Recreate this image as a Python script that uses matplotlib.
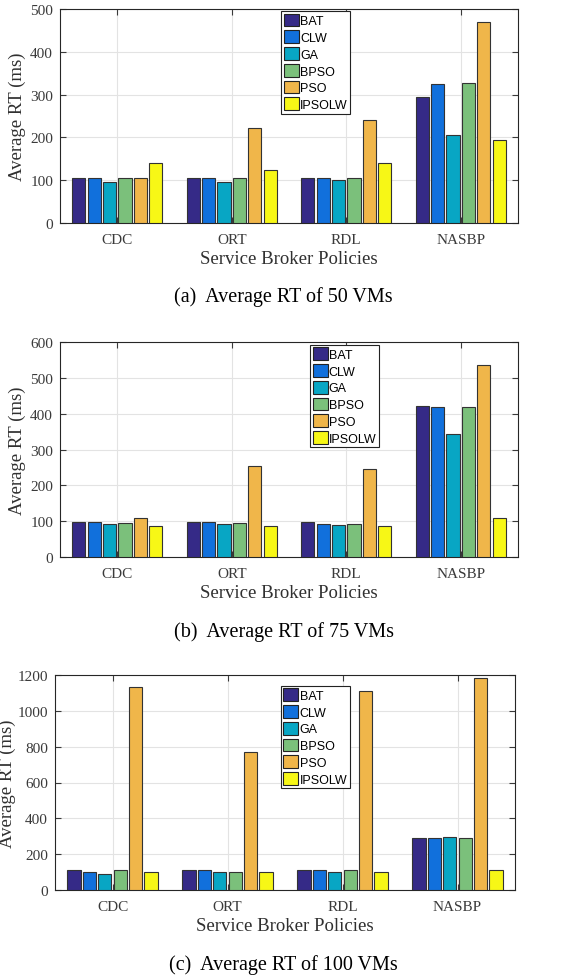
import numpy as np
import matplotlib.pyplot as plt
from matplotlib.patches import Patch

plt.rcParams["font.family"] = "Liberation Serif"

policies = ["CDC", "ORT", "RDL", "NASBP"]
algos = ["BAT", "CLW", "GA", "BPSO", "PSO", "IPSOLW"]
colors = ["#352a87", "#1170dc", "#08a6c4", "#7bc07b", "#f0b64a", "#f7f716"]

# rows = policies, columns = algorithms
rt_50 = [[105, 105, 95, 105, 105, 140],
         [105, 105, 95, 105, 223, 123],
         [105, 105, 100, 104, 240, 141],
         [295, 325, 205, 328, 470, 195]]
rt_75 = [[97, 97, 91, 94, 108, 87],
         [97, 97, 91, 96, 255, 86],
         [97, 91, 88, 91, 246, 87],
         [421, 418, 342, 419, 535, 109]]
rt_100 = [[113, 103, 91, 110, 1135, 100],
          [113, 113, 102, 102, 770, 100],
          [113, 111, 102, 113, 1110, 100],
          [292, 292, 297, 292, 1183, 110]]

panels = [
    (rt_50, 500, 100, "(a)  Average RT of 50 VMs", (60, 10, 518, 224), (0.483, 0.99), 297, 3),
    (rt_75, 600, 100, "(b)  Average RT of 75 VMs", (60, 343, 518, 558), (0.546, 0.987), 632, 3),
    (rt_100, 1200, 200, "(c)  Average RT of 100 VMs", (55, 676, 515, 891), (0.491, 0.95), 965, 1),
]

W, H = 567, 978
fig = plt.figure(figsize=(W / 100, H / 100), dpi=100)

step = 0.134
width = 0.115
x = np.arange(1, 5)

for data, ymax, ystep, caption, (l, t, r, b), legpos, capy, lpad in panels:
    ax = fig.add_axes([l / W, 1 - b / H, (r - l) / W, (b - t) / H])
    vals = np.array(data)
    for j, name in enumerate(algos):
        ax.bar(x + (j - 2.5) * step, vals[:, j], width, color=colors[j],
               edgecolor="#333333", linewidth=0.8, label=name, zorder=3)
    ax.set_xlim(0.5, 4.5)
    ax.set_ylim(0, ymax)
    ax.set_yticks(np.arange(0, ymax + 1, ystep))
    ax.set_xticks(x)
    ax.set_xticklabels(policies)
    ax.grid(True, color="#e3e3e3", linewidth=0.8, zorder=0)
    ax.tick_params(direction="in", top=True, right=True, length=4,
                   labelsize=11, colors="#3a3a3a", pad=5)
    ax.tick_params(axis="x", pad=7)
    for s in ax.spines.values():
        s.set_color("#262626")
        s.set_linewidth(0.8)
    ax.set_xlabel("Service Broker Policies", fontsize=13.5, color="#303030", labelpad=3)
    ax.set_ylabel("Average RT (ms)", fontsize=13.5, color="#303030", labelpad=lpad)
    handles = [Patch(facecolor=c, edgecolor="#222222", linewidth=0.8) for c in colors]
    leg = ax.legend(handles, algos, loc="upper left", bbox_to_anchor=legpos,
                    prop={"family": "Liberation Sans", "size": 9},
                    handlelength=1.2, handleheight=1.2, handletextpad=0.1,
                    labelspacing=0.25, borderpad=0.2, borderaxespad=0,
                    fancybox=False, framealpha=1, edgecolor="#222222")
    leg.get_frame().set_linewidth(0.8)
    fig.text(0.5, 1 - capy / H, caption, ha="center",
             va="center", fontsize=14.5, color="black")

fig.savefig("out.png", dpi=100)
